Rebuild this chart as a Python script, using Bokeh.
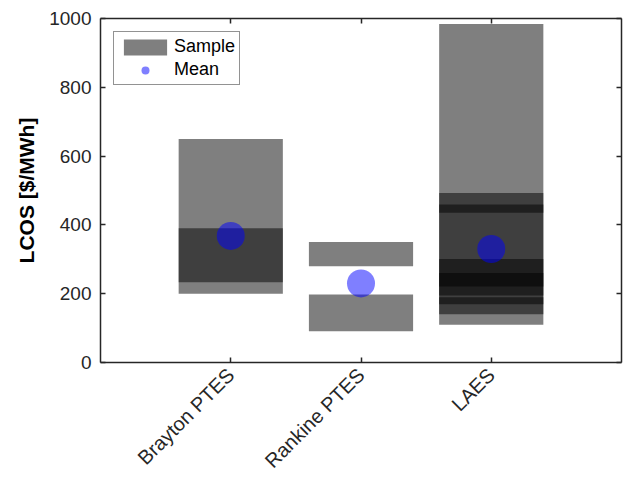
import math
from bokeh.plotting import figure
from bokeh.models import LinearAxis, FixedTicker, Range1d, Legend, LegendItem, ColumnDataSource
from bokeh.embed import file_html
from bokeh.resources import INLINE

# ---- data ----
categories = ["Brayton PTES", "Rankine PTES", "LAES"]
# each sample is a cost range (low..high) drawn as a translucent bar
sample_category = [0, 0, 1, 1, 2, 2, 2, 2, 2, 2]
sample_low = [200, 233, 280, 91, 110, 140, 169, 195, 221, 435]
sample_high = [390, 650, 350, 198, 984, 493, 190, 301, 260, 459]
mean_values = [368, 230, 330]
y_ticks = [0, 200, 400, 600, 800, 1000]
x_ticks = [1, 2, 3]

BAR_HALF = 0.4
FONT = "Liberation Sans"
AX_COL = "#262626"

bar_src = ColumnDataSource(dict(
    left=[c + 1 - BAR_HALF for c in sample_category],
    right=[c + 1 + BAR_HALF for c in sample_category],
    bottom=sample_low,
    top=sample_high,
))
mean_src = ColumnDataSource(dict(x=[i + 1 for i in range(len(categories))], y=mean_values))

p = figure(width=624, height=482, output_backend="svg", toolbar_location=None,
           x_range=Range1d(0, 4), y_range=Range1d(0, 1000),
           min_border_left=100, min_border_right=3, min_border_top=18, min_border_bottom=120)
p.xgrid.visible = False
p.ygrid.visible = False
p.outline_line_color = None
p.background_fill_color = "white"

bars = p.quad(left="left", right="right", bottom="bottom", top="top", source=bar_src,
              fill_color="black", fill_alpha=0.5, line_color=None)
means = p.scatter(x="x", y="y", source=mean_src, size=28, fill_color="blue",
                  fill_alpha=0.5, line_color=None)

def style_axis(ax):
    ax.axis_line_color = AX_COL
    ax.axis_line_width = 1.5
    ax.major_tick_line_color = AX_COL
    ax.major_tick_line_width = 1.5
    ax.major_tick_in = 5
    ax.major_tick_out = 0
    ax.minor_tick_line_color = None
    ax.major_label_text_font = FONT
    ax.major_label_text_font_size = "19px"
    ax.major_label_text_color = AX_COL

xax = p.xaxis[0]
style_axis(xax)
xax.ticker = FixedTicker(ticks=x_ticks)
xax.major_label_overrides = {t: c for t, c in zip(x_ticks, categories)}
xax.major_label_orientation = math.pi / 4
xax.major_label_standoff = 9
xax.major_label_text_font_size = "20px"

yax = p.yaxis[0]
style_axis(yax)
yax.ticker = FixedTicker(ticks=y_ticks)
yax.major_label_standoff = 9
yax.axis_label = "LCOS [$/MWh]"
yax.axis_label_text_font = FONT
yax.axis_label_text_font_size = "21px"
yax.axis_label_text_font_style = "bold"
yax.axis_label_text_color = "black"
yax.axis_label_standoff = 8

top_ax = LinearAxis(ticker=FixedTicker(ticks=x_ticks))
style_axis(top_ax)
top_ax.major_label_overrides = {t: "" for t in x_ticks}
top_ax.major_label_standoff = 0
top_ax.major_label_text_font_size = "1px"
p.add_layout(top_ax, "above")

right_ax = LinearAxis(ticker=FixedTicker(ticks=y_ticks))
style_axis(right_ax)
right_ax.major_label_overrides = {t: "" for t in y_ticks}
right_ax.major_label_standoff = 0
right_ax.major_label_text_font_size = "1px"
p.add_layout(right_ax, "right")

legend = Legend(items=[LegendItem(label="Sample", renderers=[bars]),
                       LegendItem(label="Mean", renderers=[means])],
                location="top_left", margin=13, padding=4, spacing=2,
                glyph_width=54, glyph_height=20, label_standoff=2,
                label_text_font=FONT, label_text_font_size="18px",
                label_text_color="black",
                border_line_color=AX_COL, border_line_width=1.5,
                background_fill_color="white", background_fill_alpha=1.0)
p.add_layout(legend)

open("out.html", "w").write(file_html(p, INLINE))
